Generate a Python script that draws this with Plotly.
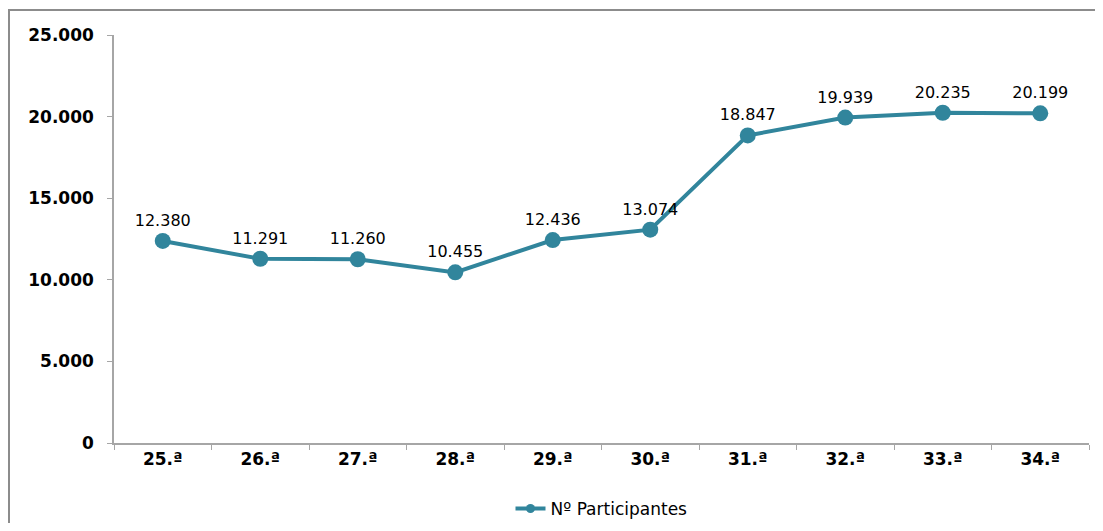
import plotly.graph_objects as go

categories = ["25.ª", "26.ª", "27.ª", "28.ª", "29.ª", "30.ª", "31.ª", "32.ª", "33.ª", "34.ª"]
participants = [12380, 11291, 11260, 10455, 12436, 13074, 18847, 19939, 20235, 20199]
y_ticks = [0, 5000, 10000, 15000, 20000, 25000]
y_tick_labels = ["0", "5.000", "10.000", "15.000", "20.000", "25.000"]
series_name = "Nº Participantes"

labels = [f"{v:,}".replace(",", ".") for v in participants]

# page has an 8px body margin on every side; work in figure coordinates
OFF = 8
W, H = 1103 - 2 * OFF, 531 - 2 * OFF
L, T = 114 - OFF, 35 - OFF
pw, ph = 975, 408
R, B = W - L - pw, H - T - ph

COLOR = "#31859C"

fig = go.Figure()
fig.add_trace(go.Scatter(
    x=categories, y=participants, name=series_name,
    mode="lines+markers+text", showlegend=False,
    line=dict(color=COLOR, width=4),
    marker=dict(size=16, color=COLOR),
    text=labels, textposition="top center",
    textfont=dict(family="DejaVu Sans", size=16, color="#000000"),
))
# legend entry (smaller marker, like the reference)
fig.add_trace(go.Scatter(
    x=[None], y=[None], name=series_name, mode="lines+markers",
    line=dict(color=COLOR, width=4), marker=dict(size=9, color=COLOR),
    showlegend=True,
))

def px_to_paper_x(px):
    return (px - OFF - L) / pw

def px_to_paper_y(py):
    return (T + ph - (py - OFF)) / ph

fig.add_shape(type="rect", xref="paper", yref="paper",
              x0=px_to_paper_x(9), x1=px_to_paper_x(1125),
              y0=px_to_paper_y(560), y1=px_to_paper_y(10),
              line=dict(color="#8C8C8C", width=2), fillcolor="rgba(0,0,0,0)", layer="below")

fig.update_layout(
    width=W, height=H,
    margin=dict(l=L, r=R, t=T, b=B, autoexpand=False),
    paper_bgcolor="white", plot_bgcolor="white",
    font=dict(family="DejaVu Sans", color="#000000"),
    showlegend=True,
    legend=dict(orientation="h", x=0.5, xanchor="center", y=px_to_paper_y(509), yanchor="middle",
                font=dict(family="DejaVu Sans", size=17, color="#000000")),
    xaxis=dict(
        type="category", showgrid=False, showline=True, linecolor="#A6A6A6", linewidth=1.5,
        ticks="outside", ticklen=5, tickcolor="#A6A6A6", tickson="boundaries",
        tickfont=dict(family="DejaVu Sans", size=17, color="#000000", weight="bold"),
        range=[-0.5, len(categories) - 0.5],
    ),
    yaxis=dict(
        range=[0, 25000], tickvals=y_ticks, ticktext=y_tick_labels,
        showgrid=False, zeroline=False, showline=True, linecolor="#A6A6A6", linewidth=1.5,
        ticks="outside", ticklen=5, tickcolor="#A6A6A6",
        tickfont=dict(family="DejaVu Sans", size=17, color="#000000", weight="bold"),
        ticklabelstandoff=10,
    ),
)

fig.write_html("out.html")
